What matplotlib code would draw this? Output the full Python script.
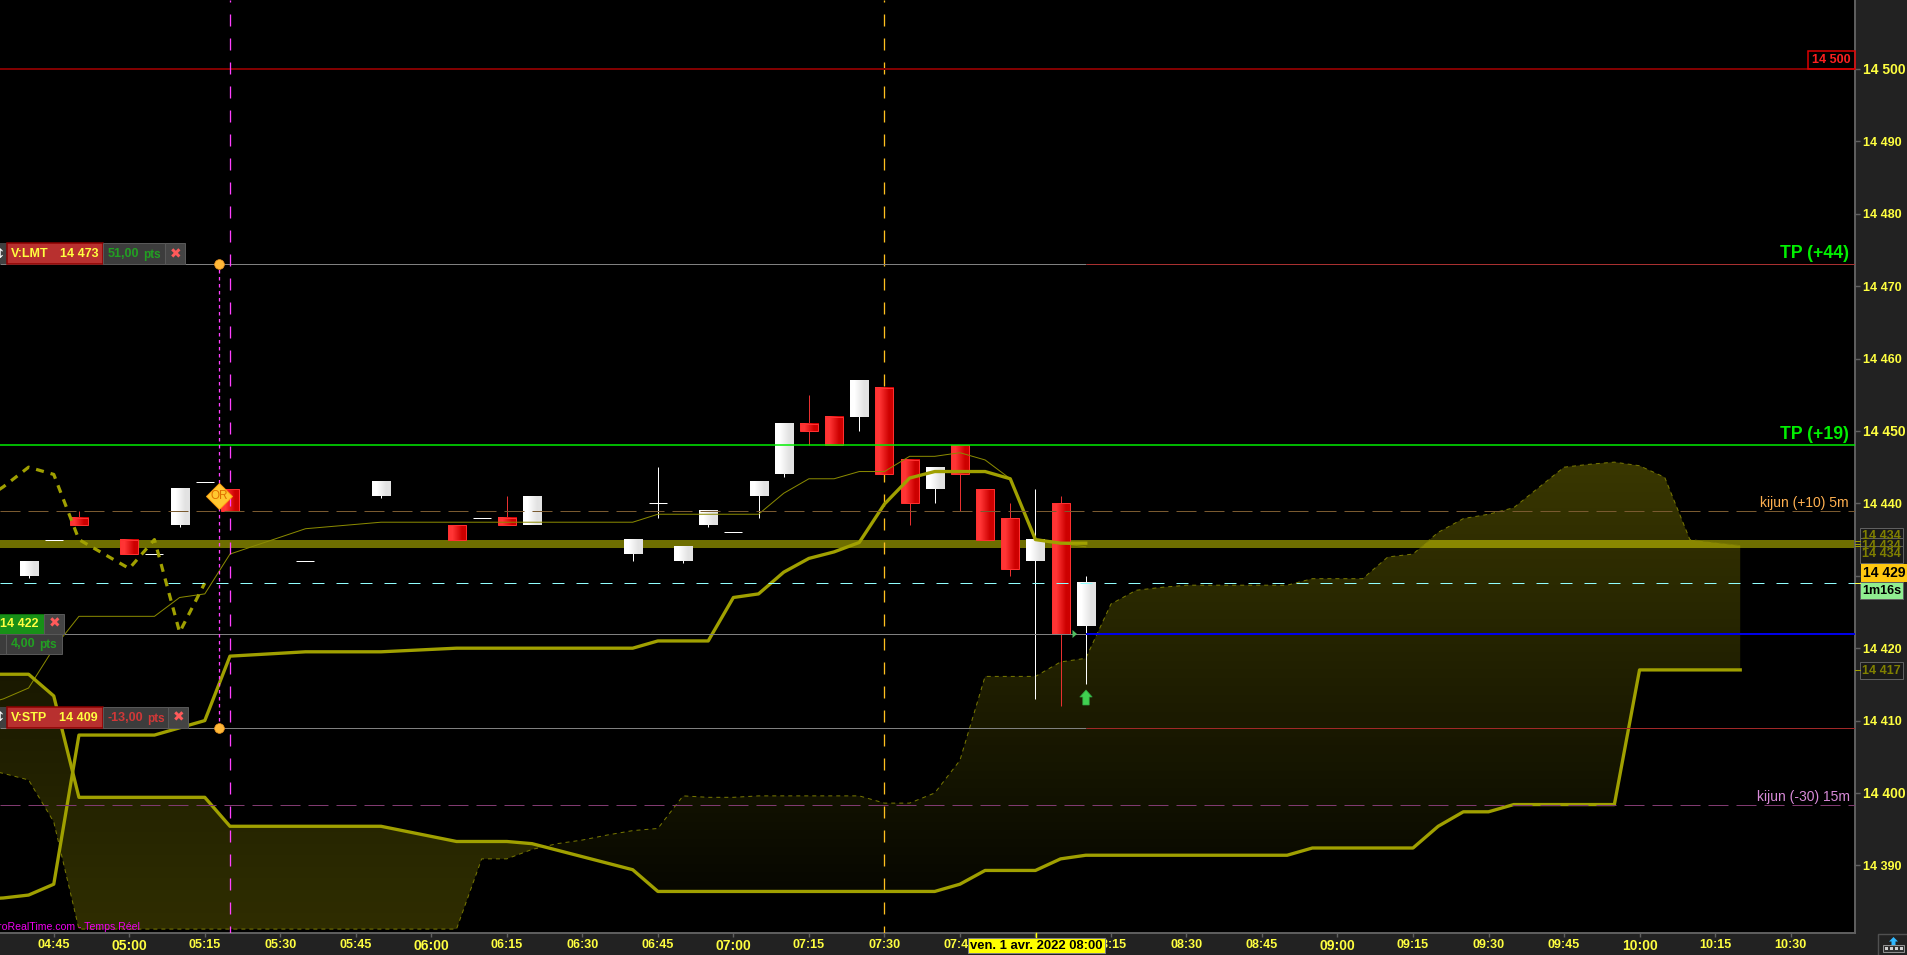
# -*- coding: utf-8 -*-
"""DAX 5 minutes, ichimoku + ordres, vendredi 1 avril 2022"""

import numpy as np
import matplotlib
matplotlib.use('Agg')
import matplotlib.pyplot as plt
from matplotlib.patches import Polygon, Rectangle

plt.rcParams['font.family'] = ['Liberation Sans', 'DejaVu Sans']
plt.rcParams['lines.scale_dashes'] = False
plt.rcParams['axes.unicode_minus'] = False

# ============================================================
# Donnees (temps en minutes depuis minuit)
# ============================================================
candle_t = [280, 285, 290, 300, 305, 310, 315, 320, 335, 350, 365, 370, 375, 380,
            400, 405, 410, 415, 420, 425, 430, 435, 440, 445, 450, 455, 460, 465,
            470, 475, 480, 485, 490]
candle_open = [14430, 14435, 14438, 14435, 14433, 14437, 14443, 14442, 14432, 14441, 14437, 14438, 14438, 14437,
               14433, 14440, 14432, 14437, 14436, 14441, 14444, 14451, 14452, 14452, 14456, 14446, 14442, 14448,
               14442, 14438, 14432, 14440, 14423]
candle_close = [14432, 14435, 14437, 14433, 14433, 14442, 14443, 14439, 14432, 14443, 14435, 14438, 14437, 14441,
                14435, 14440, 14434, 14439, 14436, 14443, 14451, 14450, 14448, 14457, 14444, 14440, 14445, 14444,
                14435, 14431, 14435, 14422, 14429]
candle_high = [14432, 14435, 14439, 14435, 14433, 14442, 14443, 14442, 14432, 14443, 14437, 14438, 14441, 14441,
               14435, 14445, 14434, 14439, 14436, 14443, 14451, 14455, 14452, 14457, 14456, 14446, 14445, 14448,
               14442, 14440, 14442, 14441, 14430]
candle_low = [14429.7, 14435, 14437, 14433, 14433, 14436.7, 14443, 14439, 14432, 14440.7, 14435, 14438, 14437, 14437,
              14432, 14438, 14431.7, 14436.7, 14436, 14438, 14443.7, 14448, 14448, 14450, 14444, 14437, 14440, 14439,
              14435, 14430, 14413, 14412, 14415]

thin_t = [270, 275, 280, 285, 290, 305, 310, 315, 320, 335, 350, 400, 405, 425, 430, 435, 440, 445, 450,
          455, 460, 465, 470, 475, 480, 485, 490]
thin_p = [14412, 14413, 14414.5, 14420, 14424.4, 14424.4, 14427, 14427.5, 14433, 14436.5, 14437.4, 14437.4,
          14438.5, 14438.5, 14441.4, 14443.4, 14443.4, 14444.4, 14444.4, 14446.5, 14446.5, 14447, 14446,
          14443.4, 14435, 14434.5, 14434]

lag_t = [270, 275, 280, 285, 290, 300, 305, 310, 315]
lag_p = [14440, 14442.3, 14445, 14444, 14435, 14431, 14435, 14422.2, 14429]

fast_t = [270, 275, 280, 285, 290, 305, 315, 320, 335, 350, 365, 400, 405, 415, 420, 425, 430, 435, 440,
          445, 450, 455, 460, 470, 475, 480, 485, 490]
fast_p = [14385.3, 14385.5, 14385.9, 14387.4, 14408, 14408, 14410, 14418.9, 14419.5, 14419.5, 14420, 14420,
          14421, 14421, 14427, 14427.5, 14430.5, 14432.4, 14433.3, 14434.6, 14439.9, 14443.5, 14444.4,
          14444.4, 14443.4, 14435, 14434.5, 14434.5]

span_b_t = [270, 280, 285, 290, 315, 320, 350, 365, 375, 380, 400, 405, 460, 465, 470, 480, 485, 490, 530,
            535, 555, 560, 565, 570, 575, 595, 600, 620]
span_b_p = [14416.4, 14416.4, 14413.4, 14399.4, 14399.4, 14395.4, 14395.4, 14393.3, 14393.3, 14393, 14389.4,
            14386.4, 14386.4, 14387.4, 14389.3, 14389.3, 14390.9, 14391.4, 14391.4, 14392.4, 14392.4,
            14395.4, 14397.4, 14397.4, 14398.4, 14398.4, 14417, 14417]

span_a_t = [270, 275, 280, 285, 290, 365, 370, 375, 380, 385, 390, 395, 400, 405, 410, 415, 420, 425, 445,
            450, 455, 460, 465, 470, 480, 485, 490, 495, 500, 505, 510, 530, 535, 545, 550, 555, 560, 565,
            570, 575, 585, 590, 595, 600, 605, 610, 620]
span_a_p = [14403.5, 14402.7, 14401.8, 14396, 14381.2, 14381.2, 14390.9, 14390.9, 14392.2, 14393, 14393.5,
            14394.2, 14394.8, 14395.1, 14399.6, 14399.4, 14399.4, 14399.6, 14399.6, 14398.6, 14398.6, 14400,
            14404.5, 14416.1, 14416.1, 14418.1, 14418.6, 14426.1, 14428, 14428.4, 14428.7, 14428.7, 14429.6,
            14429.6, 14432.6, 14433, 14436, 14437.9, 14438.5, 14439.4, 14445, 14445.4, 14445.7, 14445.2,
            14443.6, 14435, 14434.2]
span_cross = (382.6, 14392.6)

y_ticks = [14390, 14400, 14410, 14420, 14430, 14440, 14450, 14460, 14470, 14480, 14490, 14500]
x_ticks = list(range(285, 640, 15))
x_labels = ['04:45', '05:00', '05:15', '05:30', '05:45', '06:00', '06:15', '06:30', '06:45', '07:00', '07:15',
            '07:30', '07:45', '08:00', '08:15', '08:30', '08:45', '09:00', '09:15', '09:30', '09:45', '10:00',
            '10:15', '10:30']

level_tp_high = 14473
level_tp_low = 14448
level_kijun_5m = 14439
level_band = 14434.4
level_last = 14429
level_entry = 14422
level_stop = 14409
level_kijun_15m = 14398.4
level_round = 14500
t_position = 490
t_magenta = 320
t_orange = 450
t_order = 317.8
or_mark = (317.8, 14441)

# ============================================================
# Figure
# ============================================================
W, H = 1908, 955
PANEL = '#222222'
GRID = '#606060'
YEL = '#ffff40'
OLIVE = '#a0a000'
px = 72 / 100  # un pixel en points

fig = plt.figure(figsize=(W / 100, H / 100), dpi=100, facecolor=PANEL)
ax = fig.add_axes([0, (H - 933) / H, 1855 / W, 933 / H], facecolor='black')
ax.set_autoscale_on(False)
ax.set_xlim(274.32, 642.8)
ax.set_ylim(14380.66, 14509.53)


def py(price):
    """ordonnee en pixels (depuis le haut) d'un prix"""
    return H - ax.transData.transform((0, price))[1]


def hline(price, color, width, t0=None, t1=None, dashes=None, z=6):
    t0 = ax.get_xlim()[0] if t0 is None else t0
    t1 = ax.get_xlim()[1] if t1 is None else t1
    ls = '-' if dashes is None else (0, (dashes[0] * px, dashes[1] * px))
    ax.plot([t0, t1], [price, price], color=color, lw=width * px, ls=ls, zorder=z, solid_capstyle='butt')


# bande epaisse sous le nuage
hline(level_band, '#6e6e00', 8, z=1)


# nuage : degrade vertical decoupe par un polygone
def cloud(pts, a_top, a_bottom, p_top, p_bottom):
    grad = np.zeros((128, 2, 4))
    grad[..., 0] = 1.0
    grad[..., 1] = 0.96
    grad[..., 3] = np.linspace(a_top, a_bottom, 128)[:, None]
    im = ax.imshow(grad, extent=[260, 640, p_bottom, p_top], aspect='auto', zorder=2,
                   origin='upper', interpolation='bilinear')
    im.set_clip_path(Polygon(pts, closed=True, transform=ax.transData))


pts_left = ([(t, p) for t, p in zip(span_a_t, span_a_p) if t <= span_cross[0]] + [span_cross]
            + [(t, p) for t, p in zip(span_b_t, span_b_p) if t <= span_cross[0]][::-1])
pts_right = ([span_cross] + [(t, p) for t, p in zip(span_a_t, span_a_p) if t > span_cross[0]]
             + [(t, p) for t, p in zip(span_b_t, span_b_p) if t > span_cross[0]][::-1])
cloud(pts_left, 0.10, 0.19, 14418, 14381)
cloud(pts_right, 0.23, 0.03, 14446, 14386)

ax.plot(span_a_t, span_a_p, color='#787800', lw=1 * px, ls=(0, (4 * px, 4 * px)), zorder=3)

# bougies
half = 9 / 5.034
grad_red = np.array([[[255, 52, 52], [205, 0, 0]]], dtype=np.uint8)
grad_white = np.array([[[255, 255, 255], [226, 226, 226]]], dtype=np.uint8)
for t, o, c, h, l in zip(candle_t, candle_open, candle_close, candle_high, candle_low):
    red = c < o
    wick = '#e83030' if red else 'white'
    if h > max(o, c) or l < min(o, c):
        ax.plot([t, t], [l, h], color=wick, lw=1 * px, zorder=4, solid_capstyle='butt')
    if o == c:
        ax.plot([t - half, t + half], [o, o], color='white', lw=1 * px, zorder=4.2, solid_capstyle='butt')
        continue
    ax.imshow(grad_red if red else grad_white, extent=[t - half, t + half, min(o, c), max(o, c)],
              aspect='auto', zorder=4.1, interpolation='bilinear')
    if red:
        ax.add_patch(Rectangle((t - half, min(o, c)), 2 * half, abs(c - o), fc='none', ec='#ff3030',
                               lw=1 * px, zorder=4.2))

# niveaux horizontaux
hline(level_round, '#800000', 2)
hline(level_tp_high, '#808080', 1, t1=t_position)
hline(level_tp_high, '#a83030', 1, t0=t_position)
hline(level_tp_low, '#00f000', 1.5)
hline(level_kijun_5m, '#7a5a30', 1, dashes=(20, 8))
hline(level_last, '#90ffff', 1, dashes=(12, 12))
hline(level_entry, '#808080', 1, t1=t_position)
hline(level_entry, '#0000e8', 2, t0=t_position)
hline(level_stop, '#808080', 1, t1=t_position)
hline(level_stop, '#a02828', 1, t0=t_position)
hline(level_kijun_15m, '#803a70', 1, dashes=(20, 8))

# verticales
ax.axvline(t_magenta, color='#ff40ff', lw=1.3 * px, ls=(5 * px, (12 * px, 12 * px)), zorder=6)
ax.axvline(t_orange, color='#ffc020', lw=1.3 * px, ls=(5 * px, (12 * px, 12 * px)), zorder=3.5)
ax.plot([t_order, t_order], [level_stop, level_tp_high], color='#ff40ff', lw=1.3 * px,
        ls=(0, (3.5 * px, 3.5 * px)), zorder=6)
ax.plot([t_order, t_order], [level_stop, level_tp_high], ls='none', marker='o', ms=7,
        mfc='#ffb838', mec='#e89020', mew=0.5, zorder=7)

# lignes ichimoku
ax.plot(thin_t, thin_p, color='#8a8a00', lw=1 * px, zorder=5)
ax.plot(lag_t, lag_p, color=OLIVE, lw=3.2 * px, ls=(0, (8 * px, 7 * px)), zorder=5)
ax.plot(fast_t, fast_p, color=OLIVE, lw=3.3 * px, zorder=5.1)
ax.plot(span_b_t, span_b_p, color=OLIVE, lw=3.3 * px, zorder=5.1)

# marqueur OR
ax.plot([or_mark[0]], [or_mark[1]], marker='D', ms=13, mfc='#ffc830', mec='#ffa010', mew=0.7,
        ls='none', zorder=8)
ax.text(or_mark[0], or_mark[1], 'OR', color='#e07000', fontsize=8.5, ha='center', va='center', zorder=9)

# axes
for side in ('top', 'left'):
    ax.spines[side].set_visible(False)
for side in ('right', 'bottom'):
    ax.spines[side].set_color(GRID)
    ax.spines[side].set_linewidth(1.4)
ax.yaxis.tick_right()
ax.set_yticks(y_ticks)
ax.set_yticklabels([f'{v:,}'.replace(',', ' ') for v in y_ticks])
ax.tick_params(axis='y', length=5 * px, width=1, color=GRID, pad=2, labelcolor=YEL)
ax.set_xticks(x_ticks)
ax.set_xticklabels(x_labels)
ax.tick_params(axis='x', length=4 * px, width=1, color=GRID, pad=1.4, labelcolor=YEL)
for lab, v in zip(ax.get_yticklabels(), y_ticks):
    lab.set_fontsize(10 if v % 50 == 0 else 9)
    lab.set_fontweight('bold')
for lab, name in zip(ax.get_xticklabels(), x_labels):
    lab.set_fontsize(10 if name.endswith(':00') else 9)
    lab.set_fontweight('bold')

# ============================================================
# Etiquettes, en pixels
# ============================================================
pix = fig.add_axes([0, 0, 1, 1], zorder=10)
pix.set_xlim(0, W)
pix.set_ylim(H, 0)
pix.axis('off')


def box(x0, x1, y0, y1, fc, ec='none', lw=1):
    pix.add_patch(Rectangle((x0, y0), x1 - x0, y1 - y0, fc=fc, ec=ec, lw=lw * px))


def label(x, y, s, color, size=9, weight='bold', ha='left', **kw):
    pix.text(x, y, s, color=color, fontsize=size, fontweight=weight, ha=ha, va='center', **kw)


def cross(x, y):
    pix.text(x, y, '\u2716', color='#ff5a5a', fontsize=10, ha='center', va='center', family='DejaVu Sans')


# ordre V:LMT
y0 = py(level_tp_high)
box(0, 7, y0 - 21, y0, '#404040')
box(7, 103, y0 - 21, y0, '#b8302f', ec='#8c0000', lw=1.5)
box(103, 165, y0 - 21, y0, '#3c3c3c', ec='#585858')
box(165, 185, y0 - 21, y0, '#444444', ec='#585858')
label(11, y0 - 10, 'V:LMT', YEL)
label(60, y0 - 10, '14 473', YEL)
label(108, y0 - 10, '51,00', '#22a022')
label(143, y0 - 9, 'pts', '#22a022', size=8.5)
cross(175.7, y0 - 10)
pix.text(0, y0 - 10, '\u2195', color='white', fontsize=9, ha='center', va='center', family='DejaVu Sans')

# ordre V:STP
y0 = py(level_stop)
box(0, 7, y0 - 21, y0, '#404040')
box(7, 103, y0 - 21, y0, '#b8302f', ec='#8c0000', lw=1.5)
box(103, 168, y0 - 21, y0, '#3c3c3c', ec='#585858')
box(168, 188, y0 - 21, y0, '#444444', ec='#585858')
label(11, y0 - 10, 'V:STP', YEL)
label(59, y0 - 10, '14 409', YEL)
label(108, y0 - 10, '-13,00', '#d03838')
label(147, y0 - 9, 'pts', '#d03838', size=8.5)
cross(178.3, y0 - 10)
pix.text(0, y0 - 10, '\u2195', color='white', fontsize=9, ha='center', va='center', family='DejaVu Sans')

# position
y0 = py(level_entry)
box(-2, 44.5, y0 - 20, y0, '#189018', ec='#0c700c')
box(44.5, 64, y0 - 20, y0, '#444444', ec='#585858')
box(-2, 6.3, y0, y0 + 20, '#3c3c3c', ec='#585858')
box(6.3, 61.7, y0, y0 + 20, '#3c3c3c', ec='#585858')
label(38.3, y0 - 10, '14 422', YEL, ha='right')
cross(54.3, y0 - 10)
label(11, y0 + 10, '4,00', '#22a022')
label(39, y0 + 11, 'pts', '#22a022', size=8.5)

# textes de droite
label(1849, py(level_tp_high) - 11, 'TP (+44)', '#00f000', size=12.7, ha='right')
label(1849, py(level_tp_low) - 11, 'TP (+19)', '#00f000', size=12.7, ha='right')
label(1849, py(level_kijun_5m) - 8, 'kijun (+10) 5m', '#ffb050', size=10, weight='normal', ha='right')
label(1850, py(level_kijun_15m) - 8, 'kijun (-30) 15m', '#d88ad8', size=10, weight='normal', ha='right')
y0 = py(level_round)
box(1808, 1855, y0 - 18, y0, 'none', ec='#e00000', lw=1.5)
label(1831.5, y0 - 9, '14 500', '#ff2020', ha='center')

# etiquettes de l'axe des prix
for top in (528.3, 537.7, 546.3):
    box(1860, 1903, top, top + 16.4, '#1a1a1a', ec=GRID)
    label(1862.5, top + 8, '14 434', '#808000')
pix.plot([1855, 1860], [py(14417)] * 2, color='#a0a000', lw=1 * px)
for dy in (-2.5, 0, 2.5):
    pix.plot([1855, 1860], [py(level_band) + dy] * 2, color='#a0a000', lw=1 * px)
box(1860, 1903, 662, 678.7, '#1a1a1a', ec=GRID)
label(1862.5, 670.5, '14 417', '#808000')
pix.plot([1855, 1860], [py(level_last)] * 2, color='#ffff40', lw=1 * px)
box(1860, 1903, 581.7, 599.3, '#90ee90', ec=GRID)
label(1862, 590.5, '1m16s', 'black')
box(1861, 1907, 564, 581.7, '#ffc810')
label(1863, 573, '14 429', 'black', size=10)

# fleche d'entree
ax_x = 1086
pix.add_patch(Polygon([(ax_x, 690), (ax_x + 6.2, 697), (ax_x + 3.2, 697), (ax_x + 3.2, 705),
                       (ax_x - 3.2, 705), (ax_x - 3.2, 697), (ax_x - 6.2, 697)],
                      fc='#40d050', ec='#30a040', lw=0.5))
pix.add_patch(Polygon([(1072.5, 630), (1077, 634), (1072.5, 638)], fc='#50c060', ec='none'))

# pied de graphique
label(140, 927, 'ProRealTime.com - Temps R\u00e9el', '#f000f0', size=7.6, weight='normal', ha='right')
pix.plot([1036, 1036], [933, 937], color='#ffff00', lw=1)
box(968, 1105, 938, 953, '#ffff00', ec='#808080')
label(1036.5, 945.5, 'ven. 1 avr. 2022 08:00', 'black', size=9.4, ha='center')

# icone en bas a droite
pix.plot([1878, 1878, 1908], [955, 934, 934], color='#505050', lw=1)
pix.add_patch(Polygon([(1893.5, 937), (1898, 941.5), (1895.5, 941.5), (1895.5, 945), (1891.5, 945),
                       (1891.5, 941.5), (1889, 941.5)], fc='#30b8ff', ec='none'))
box(1883, 1904, 945, 952, '#303030', ec='#909090')
for sx in (1885.5, 1890.5, 1895.5, 1900):
    box(sx, sx + 3, 947, 950, '#d0d0d0')

fig.savefig('out.png', dpi=100, facecolor=fig.get_facecolor())
